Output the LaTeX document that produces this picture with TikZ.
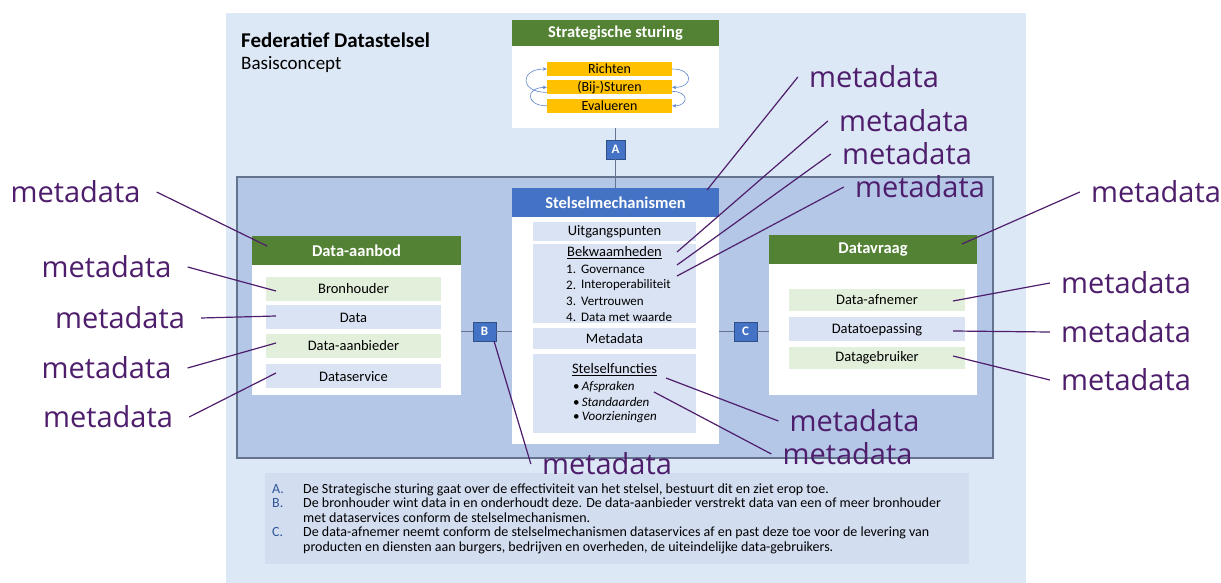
\documentclass[tikz,border=0pt]{standalone}
\usepackage{fontspec}
\setmainfont{Carlito}
\newfontfamily\metafont{Open Sans}
\usetikzlibrary{positioning, arrows.meta}

\definecolor{achtergrond}{RGB}{221,232,246}
\definecolor{stelselblauw}{RGB}{180,199,231}
\definecolor{randgrijs}{RGB}{100,115,142}
\definecolor{kopgroen}{RGB}{84,130,53}
\definecolor{kopblauw}{RGB}{68,114,196}
\definecolor{rijgroen}{RGB}{226,239,218}
\definecolor{rijblauw}{RGB}{218,227,243}
\definecolor{oranje}{RGB}{255,192,0}
\definecolor{paneel}{RGB}{211,221,240}
\definecolor{paars}{RGB}{78,30,108}
\definecolor{letterblauw}{RGB}{47,85,151}

\tikzset{
    x=1pt, y=-1pt,
    blok/.style={fill=white, inner sep=0pt},
    kop/.style={inner sep=0pt, text=white, font=\bfseries\fontsize{16.5}{18}\selectfont},
    groen/.style={kop, fill=kopgroen},
    rij/.style={inner sep=0pt, font=\fontsize{14.5}{16}\selectfont},
    rijA/.style={rij, minimum width=175pt, minimum height=24pt},
    rijV/.style={rij, minimum width=176pt, minimum height=22pt},
    rijS/.style={rij, fill=rijblauw, minimum width=163pt},
    lijst/.style={inner sep=0pt, font=\fontsize{13}{14}\selectfont},
    stap/.style={fill=oranje, minimum width=125pt, minimum height=14pt, inner sep=0pt, font=\fontsize{14}{14}\selectfont},
    letter/.style={fill=kopblauw, draw=kopblauw!70!black, text=white, minimum height=19pt, inner sep=0pt, font=\bfseries\fontsize{13}{13}\selectfont},
    lijn/.style={draw=randgrijs, line width=0.9pt},
    cyclus/.style={draw=kopblauw!85, line width=0.6pt, -{Stealth[length=4pt, width=3.5pt]}},
    uitleg/.style={anchor=base west, inner sep=0pt, font=\fontsize{14}{15}\selectfont},
    meta/.style={text=paars, inner xsep=11pt, inner ysep=0pt, font=\metafont\fontsize{29}{30}\selectfont},
    metalinks/.style={meta, inner xsep=16pt},
    metalijn/.style={draw=paars, line width=1.2pt}
}

\begin{document}
\begin{tikzpicture}
    \useasboundingbox (0,0) rectangle (1221,583);
    \fill[achtergrond] (226,13) rectangle (1026,583);
    \filldraw[fill=stelselblauw, draw=randgrijs, line width=1.2pt] (237,177) rectangle (993,458);

    \node[anchor=west, inner sep=0pt, font=\bfseries\fontsize{21}{24}\selectfont] (titel) at (241,40) {Federatief Datastelsel};
    \node[anchor=west, inner sep=0pt, font=\fontsize{19}{22}\selectfont] (subtitel) at (241,64) {Basisconcept};

    % strategische sturing
    \node[blok, minimum width=207pt, minimum height=108pt] (strat) at (615.5,74) {};
    \node[groen, minimum width=207pt, minimum height=26pt] (strathdr) at (615.5,33) {Strategische sturing};
    \node[stap] (richten) at (609.5,69) {Richten};
    \node[stap, below=4pt of richten] (sturen) {(Bij-)Sturen};
    \node[stap, below=4pt of sturen] (evalueren) {Evalueren};
    \draw[cyclus] ([yshift=-5pt]sturen.west) to[out=180, in=180, looseness=3] (richten.west);
    \draw[cyclus] (evalueren.west) to[out=180, in=180, looseness=3] (sturen.west);
    \draw[cyclus] (richten.east) to[out=0, in=0, looseness=3] (sturen.east);
    \draw[cyclus] ([yshift=-4pt]sturen.east) to[out=0, in=0, looseness=3] (evalueren.east);

    % stelselmechanismen
    \node[blok, minimum width=207pt, minimum height=256pt] (stelsel) at (615.5,316) {};
    \node[kop, fill=kopblauw, minimum width=207pt, minimum height=29pt] (stelselhdr) at (615.5,202.5) {Stelselmechanismen};
    \node[letter, minimum width=19pt] (A) at (615.5,149.5) {A};
    \draw[lijn] (strat) -- (A) -- (stelselhdr);
    \node[rijS, minimum height=19pt] (uitgang) at (614.5,231.5) {Uitgangspunten};
    \node[rijS, minimum height=79pt, below=3pt of uitgang] (bekwaam) {};
    \node[rijS, minimum height=21pt, below=4pt of bekwaam] (metadata) {Metadata};
    \node[rijS, minimum height=79pt, below=5pt of metadata] (functies) {};
    \node[rij] (bekwaamkop) at (614.5,253) {\underline{Bekwaamheden}};
    \foreach \t [count=\i] in {Governance, Interoperabiliteit, Vertrouwen, Data met waarde} {
        \node[lijst, anchor=west] (bn\i) at (566,253+16*\i) {\i.};
        \node[lijst, anchor=west] (bt\i) at (581,253+16*\i) {\t};
    }
    \node[rij] (functieskop) at (614.5,370) {\underline{Stelselfuncties}};
    \foreach \t [count=\i] in {Afspraken, Standaarden, Voorzieningen}
        \node[lijst, anchor=west] (sf\i) at (573,372+15*\i) {\textbullet\,\textit{\t}};

    % data-aanbod
    \node[blok, minimum width=209pt, minimum height=159pt] (aanbod) at (356.5,315.5) {};
    \node[groen, minimum width=209pt, minimum height=29pt] (aanbodhdr) at (356.5,250.5) {Data-aanbod};
    \node[rijA, fill=rijgroen] (bron) at (353.5,289) {Bronhouder};
    \node[rijA, fill=rijblauw, below=4pt of bron] (data) {Data};
    \node[rijA, fill=rijgroen, below=4pt of data] (aanbieder) {Data-aanbieder};
    \node[rijA, fill=rijblauw, below=6pt of aanbieder] (service) {Dataservice};

    % datavraag
    \node[blok, minimum width=208pt, minimum height=160pt] (vraag) at (873,315) {};
    \node[groen, minimum width=208pt, minimum height=29pt] (vraaghdr) at (873,249.5) {Datavraag};
    \node[rijV, fill=rijgroen] (afnemer) at (877,300) {Data-afnemer};
    \node[rijV, fill=rijblauw, minimum height=24pt, below=6pt of afnemer] (toepassing) {Datatoepassing};
    \node[rijV, fill=rijgroen, below=5pt of toepassing] (gebruiker) {Datagebruiker};

    \node[letter, minimum width=23pt] (B) at (484.5,331.5) {B};
    \node[letter, minimum width=23pt] (C) at (745.5,331.5) {C};
    \draw[lijn] (B -| aanbod.east) -- (B) -- (B -| stelsel.west);
    \draw[lijn] (C -| stelsel.east) -- (C) -- (C -| vraag.west);

    % toelichting
    \node[fill=paneel, minimum width=704pt, minimum height=91pt, inner sep=0pt] (toelichting) at (617,518.5) {};
    \node[uitleg, text=letterblauw] (la) at (272,493) {A.};
    \node[uitleg] (ta) at (303,493) {De Strategische sturing gaat over de effectiviteit van het stelsel, bestuurt dit en ziet erop toe.};
    \node[uitleg, text=letterblauw] (lb) at (272,507.5) {B.};
    \node[uitleg] (tb1) at (303,507.5) {De bronhouder wint data in en onderhoudt deze. De data-aanbieder verstrekt data van een of meer bronhouder};
    \node[uitleg] (tb2) at (303,522) {met dataservices conform de stelselmechanismen.};
    \node[uitleg, text=letterblauw] (lc) at (272,536.5) {C.};
    \node[uitleg] (tc1) at (303,536.5) {De data-afnemer neemt conform de stelselmechanismen dataservices af en past deze toe voor de levering van};
    \node[uitleg] (tc2) at (303,551) {producten en diensten aan burgers, bedrijven en overheden, de uiteindelijke data-gebruikers.};

    % metadata
    \foreach \n/\x/\y in {L1/75.5/192, L2/106.5/267, L3/120/318, L4/106.5/368, L5/108/417}
        \node[metalinks] (\n) at (\x,\y) {metadata};
    \foreach \n/\x/\y in {T1/874/77, T2/904/121, T3/907/154, T4/920/187, R1/1156/192, R2/1126/283,
                          R3/1126/332, R4/1126/380, S1/854.5/421, S2/847.5/454, S3/607/464}
        \node[meta] (\n) at (\x,\y) {metadata};
    \foreach \p/\x/\y/\n/\a in {pL1/267/246/L1/east, pL2/276/291/L2/east, pL3/276/316/L3/east,
                                pL4/276/343/L4/east, pL5/276/373/L5/east, pT1/707/190/T1/west,
                                pT2/677/252/T2/west, pT3/677/265/T3/west, pT4/677/276/T4/west,
                                pR1/962/244/R1/west, pR2/953/301/R2/west, pR3/953/331/R3/west,
                                pR4/953/356/R4/west, pS1/666/378/S1/west, pS2/654/392/S2/west,
                                pS3/494/341/S3/west} {
        \coordinate (\p) at (\x,\y);
        \draw[metalijn] (\p) -- (\n.\a);
    }
\end{tikzpicture}
\end{document}
